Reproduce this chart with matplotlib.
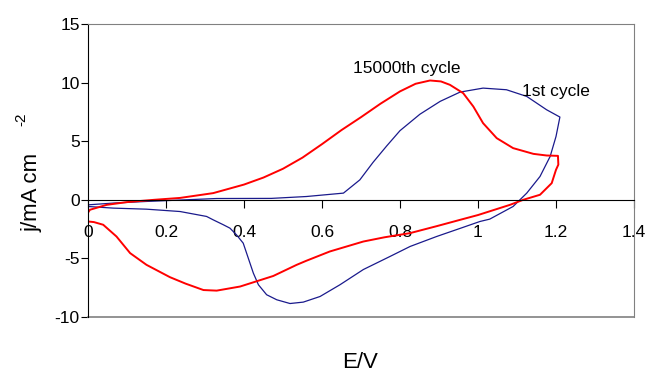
import matplotlib
matplotlib.use("Agg")
import matplotlib.pyplot as plt

plt.rcParams['font.family'] = ['Liberation Sans', 'DejaVu Sans']

# 15000th cycle (red): anodic sweep, then cathodic sweep back
red_E = [0.0, 0.005, 0.048, 0.099, 0.17, 0.236, 0.321, 0.4, 0.45, 0.5, 0.55, 0.6,
         0.65, 0.7, 0.75, 0.8, 0.84, 0.877, 0.905, 0.928, 0.962, 0.988, 1.013, 1.048, 1.09,
         1.142, 1.176, 1.205,
         1.206, 1.2, 1.189, 1.159, 1.116, 1.082, 1.0, 0.954, 0.894, 0.826, 0.76, 0.706,
         0.62, 0.56, 0.535, 0.475, 0.39, 0.33, 0.296, 0.25, 0.21, 0.15, 0.108,
         0.073, 0.039, 0.015, 0.0, 0.0]
red_j = [-1.1, -0.85, -0.43, -0.2, 0.0, 0.16, 0.57, 1.3, 1.9, 2.65, 3.6, 4.75,
         5.95, 7.05, 8.2, 9.25, 9.9, 10.18, 10.1, 9.81, 9.1, 7.96, 6.54, 5.26, 4.41,
         3.92, 3.78, 3.75,
         3.0, 2.56, 1.42, 0.43, 0.0, -0.43, -1.3, -1.71, -2.25, -2.84, -3.2, -3.56,
         -4.41, -5.2, -5.55, -6.5, -7.4, -7.75, -7.7, -7.15, -6.6, -5.55, -4.55,
         -3.13, -2.13, -1.9, -1.85, -1.1]

# 1st cycle (blue)
blue_E = [0.0, 0.065, 0.15, 0.236, 0.33, 0.47, 0.56, 0.655, 0.697, 0.731, 0.766, 0.8,
          0.851, 0.903, 0.954, 1.013, 1.073, 1.125, 1.176, 1.21,
          1.2, 1.185, 1.159, 1.125, 1.09, 1.03, 1.005, 0.954, 0.894, 0.826, 0.774, 0.706,
          0.646, 0.595, 0.552, 0.518, 0.484, 0.458, 0.437, 0.424, 0.398, 0.381, 0.364,
          0.347, 0.321, 0.304, 0.236, 0.15, 0.065, 0.0, 0.0]
blue_j = [-0.43, -0.28, -0.14, -0.02, 0.11, 0.12, 0.28, 0.57, 1.7, 3.2, 4.6, 5.9,
          7.3, 8.4, 9.19, 9.53, 9.39, 8.82, 7.68, 7.06,
          5.4, 3.7, 1.99, 0.57, -0.57, -1.65, -1.85, -2.44, -3.13, -3.98, -4.84, -5.95,
          -7.25, -8.25, -8.73, -8.85, -8.53, -8.1, -7.25, -6.26, -3.7, -3.0, -2.42,
          -2.13, -1.71, -1.42, -1.0, -0.8, -0.71, -0.57, -0.43]

x_ticks = [0, 0.2, 0.4, 0.6, 0.8, 1, 1.2, 1.4]
x_labels = ["0", "0.2", "0.4", "0.6", "0.8", "1", "1.2", "1.4"]
y_ticks = [-10, -5, 0, 5, 10, 15]
y_labels = ["-10", "-5", "0", "5", "10", "15"]

fig = plt.figure(figsize=(6.5, 3.74), dpi=100)
ax = fig.add_axes([88/650, 1-317/374, (634-88)/650, (317-24)/374])

ax.plot(blue_E, blue_j, color='#1a1a8c', lw=0.9)
ax.plot(red_E, red_j, color='#ff0000', lw=1.4)

ax.set_xlim(0, 1.4)
ax.set_ylim(-10, 15)

ax.spines['bottom'].set_position(('data', 0))
ax.spines['bottom'].set_color('black')
ax.spines['left'].set_color('black')
for s in ['top', 'right']:
    ax.spines[s].set_color('#808080')
ax.axhline(-10, color='#808080', lw=1.2, clip_on=False)

ax.set_xticks(x_ticks)
ax.set_xticklabels(x_labels)
ax.set_yticks(y_ticks)
ax.set_yticklabels(y_labels)
ax.tick_params(axis='x', direction='out', length=6, pad=12, labelsize=12.5)
ax.tick_params(axis='y', direction='out', length=5, pad=1, labelsize=12.5)

ax.text(0.818, 11.18, "15000th cycle", ha='center', va='center', fontsize=12.5)
ax.text(1.2, 9.2, "1st cycle", ha='center', va='center', fontsize=12.5)

fig.text(32/650, 1-192/374, "j/mA cm", rotation=90, ha='center', va='center', fontsize=16)
fig.text(21/650, 1-119/374, "-2", rotation=90, ha='center', va='center', fontsize=11)
fig.text(360/650, 1-362/374, "E/V", ha='center', va='center', fontsize=16)

fig.savefig("out.png", dpi=100)
